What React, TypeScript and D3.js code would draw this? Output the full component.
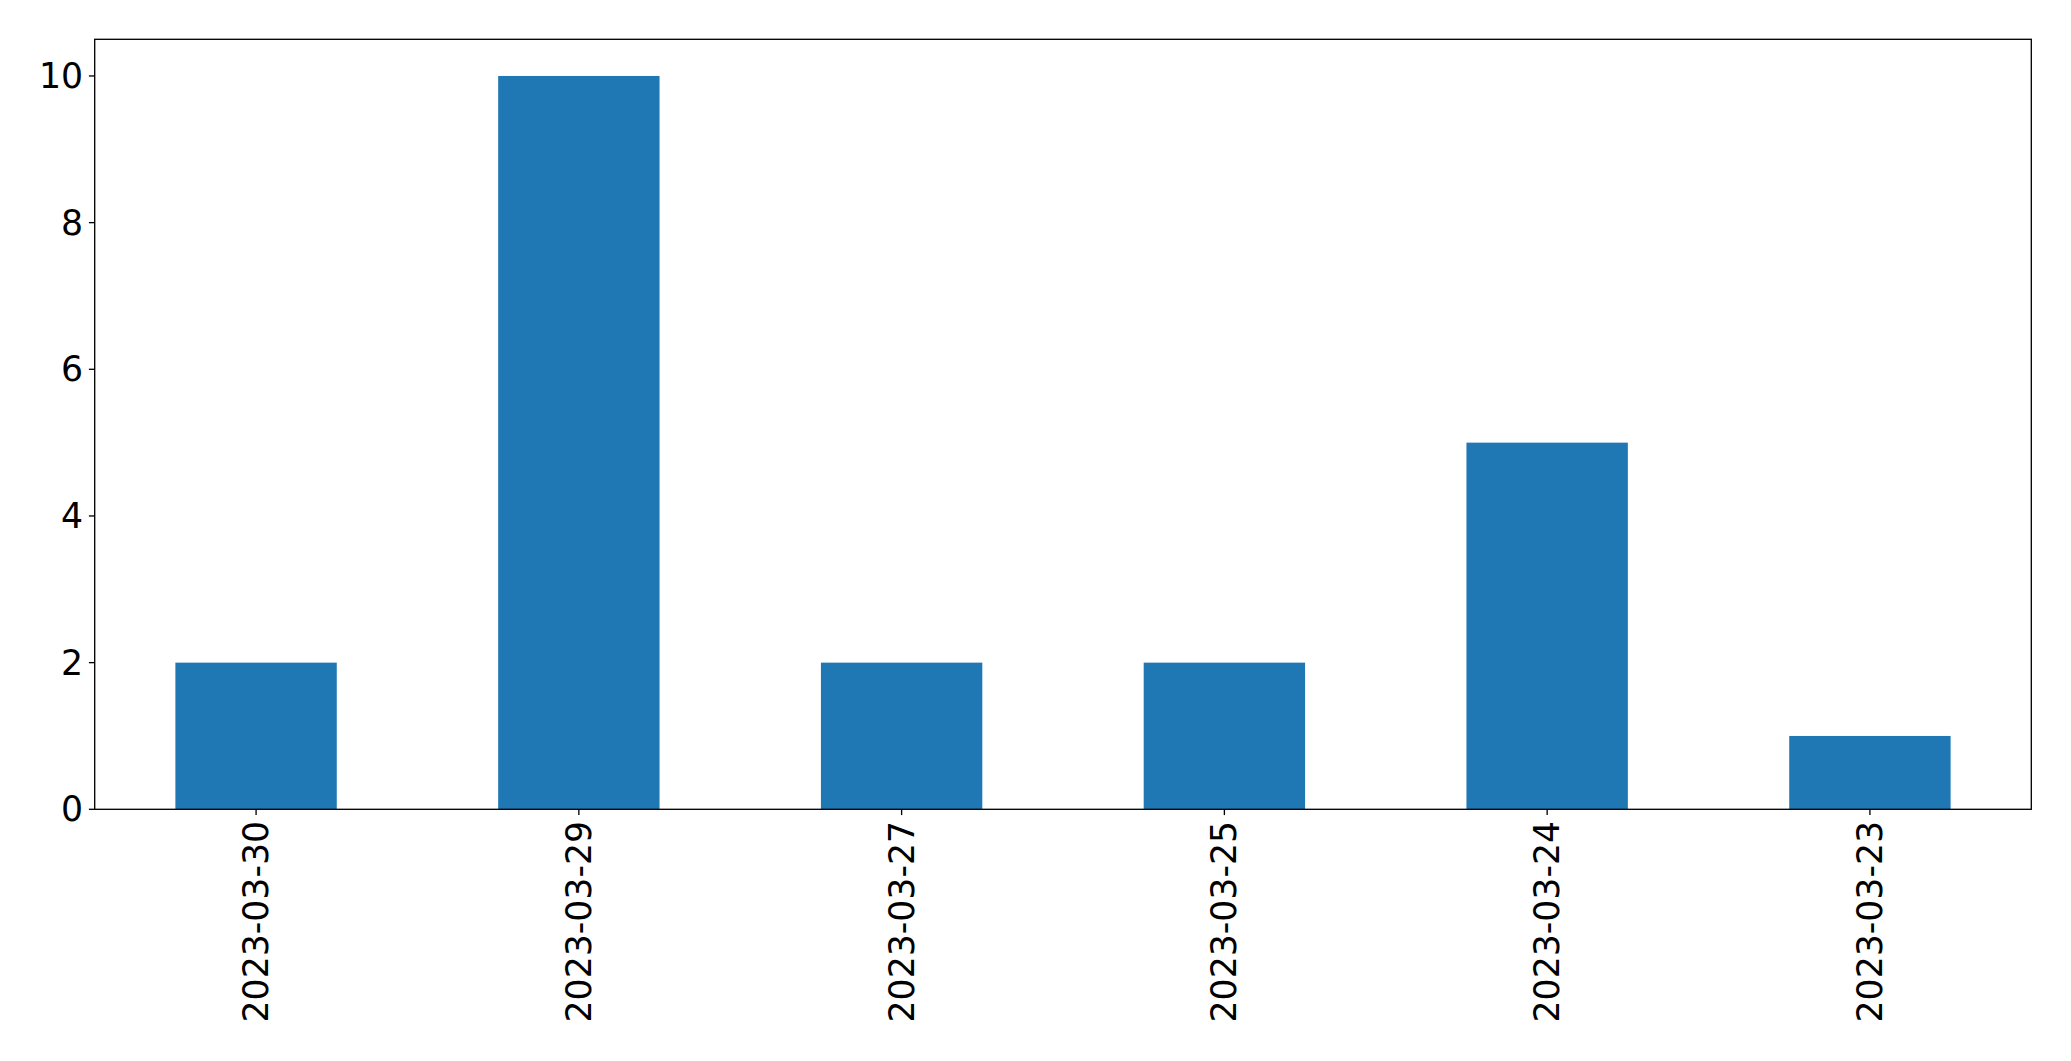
import React from "react";
import * as d3 from "d3";

const categories = ["2023-03-30", "2023-03-29", "2023-03-27", "2023-03-25", "2023-03-24", "2023-03-23"];
const values = [2, 10, 2, 2, 5, 1];
const yTicks = [0, 2, 4, 6, 8, 10];

const W = 2071;
const H = 1061;
const left = 94.7;
const right = 2031.3;
const top = 39.3;
const bottom = 809.3;
const fontSize = 34.7;
const tickLen = 5.8;
const pad = 5.8;

export default function App() {
  const x = d3.scaleLinear().domain([-0.5, categories.length - 0.5]).range([left, right]);
  const y = d3.scaleLinear().domain([0, 10.5]).range([bottom, top]);
  const barW = x(0.25) - x(-0.25);
  return (
    <svg
      width={W}
      height={H}
      style={{ position: "absolute", left: 0, top: 0, background: "#fff" }}
      fontFamily="DejaVu Sans"
    >
      <rect x={0} y={0} width={W} height={H} fill="#fff" />
      {values.map((v, i) => (
        <rect
          key={i}
          x={x(i) - barW / 2}
          y={y(v)}
          width={barW}
          height={y(0) - y(v)}
          fill="#1f77b4"
        />
      ))}
      <rect x={left} y={top} width={right - left} height={bottom - top} fill="none" stroke="#000" strokeWidth={1.33} />
      {yTicks.map((t) => (
        <g key={t}>
          <line x1={left - tickLen} x2={left} y1={y(t)} y2={y(t)} stroke="#000" strokeWidth={1.33} />
          <text
            x={left - tickLen - pad}
            y={y(t)}
            textAnchor="end"
            dominantBaseline="central"
            fontSize={fontSize}
            fill="#000"
          >
            {t}
          </text>
        </g>
      ))}
      {categories.map((c, i) => (
        <g key={c}>
          <line x1={x(i)} x2={x(i)} y1={bottom} y2={bottom + tickLen} stroke="#000" strokeWidth={1.33} />
          <text
            transform={`translate(${x(i)},${bottom + tickLen + pad}) rotate(-90)`}
            textAnchor="end"
            dominantBaseline="central"
            fontSize={fontSize}
            fill="#000"
          >
            {c}
          </text>
        </g>
      ))}
    </svg>
  );
}
